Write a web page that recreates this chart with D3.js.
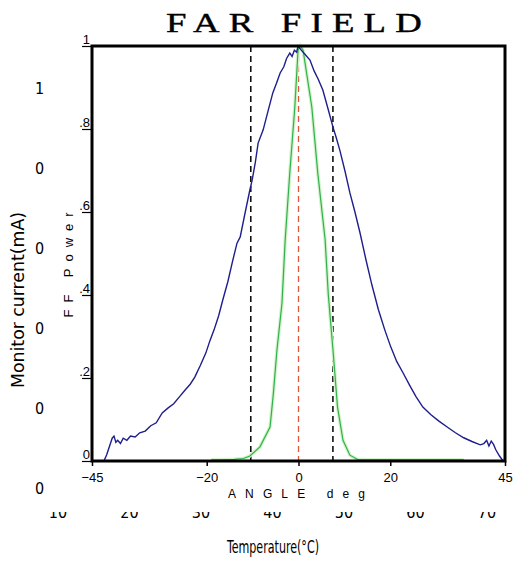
<!DOCTYPE html>
<html>
<head>
<meta charset="utf-8">
<script src="https://cdn.jsdelivr.net/npm/d3@7"></script>
<style>
	body { margin: 0; background: #fff; }
	text { font-family: "Liberation Sans", Arial, sans-serif; }
</style>
</head>
<body>
<div id="chart"></div>
<script>
// Data

// far field, wide beam (blue)
var blueAngle = [-42.4, -41.8, -41.2, -40.6, -40.2, -39.8, -39.4, -38.8, -38.2, -37.4, -36.6, -35.6, -34.6, -33.4,
	-32.2, -31.0, -29.7, -28.4, -27.2, -26.0, -24.8, -23.6, -22.6, -21.4, -20.2, -19.3, -18.4, -17.4, -16.5,
	-15.4, -14.4, -13.4, -12.7, -11.6, -10.6, -10.1, -9.4, -8.8, -7.7, -6.6, -5.6, -4.8, -4.0, -3.2, -2.6,
	-1.9, -1.4, -0.9, -0.4, -0.1, 0.6, 1.4, 2.5, 3.4, 4.3, 5.3, 6.4, 7.5, 8.2, 9.0, 10.1, 11.2, 12.3, 13.4,
	14.7, 16.0, 17.4, 18.8, 20.1, 21.4, 22.8, 24.2, 25.6, 27.1, 28.8, 30.6, 32.4, 34.2, 36.0, 37.8, 39.6,
	40.4, 41.0, 41.5, 42.0, 42.5, 43.0, 43.8, 44.6];
var bluePower = [0, 0.015, 0.035, 0.055, 0.06, 0.045, 0.05, 0.042, 0.055, 0.05, 0.06, 0.058, 0.068, 0.072,
	0.085, 0.092, 0.116, 0.128, 0.138, 0.154, 0.17, 0.185, 0.202, 0.23, 0.26, 0.29, 0.316, 0.35, 0.388,
	0.432, 0.48, 0.525, 0.54, 0.6, 0.653, 0.677, 0.72, 0.766, 0.798, 0.845, 0.887, 0.91, 0.935, 0.95, 0.97,
	0.983, 0.975, 0.99, 0.985, 1.0, 0.99, 0.98, 0.966, 0.94, 0.92, 0.894, 0.85, 0.805, 0.78, 0.749, 0.7, 0.646, 0.6, 0.55,
	0.485, 0.424, 0.365, 0.316, 0.275, 0.24, 0.212, 0.183, 0.155, 0.13, 0.112, 0.096, 0.082, 0.068, 0.056, 0.047, 0.039,
	0.042, 0.05, 0.036, 0.048, 0.04, 0.027, 0.012, 0];

// far field, narrow beam (green)
var greenAngle = [-19, -17.1, -14, -12, -10.6, -8.4, -6.2, -5.5, -4.7, -3.6, -2.9, -1.9, -0.8, -0.1, 0.4, 1.0,
	2.9, 4.2, 5.8, 6.5, 7.5, 8.5, 9.7, 11.2, 13, 36];
var greenPower = [0.003, 0.003, 0.004, 0.006, 0.012, 0.034, 0.082, 0.16, 0.267, 0.38, 0.533, 0.694, 0.853, 0.99, 1.0, 0.99,
	0.853, 0.694, 0.533, 0.4, 0.27, 0.13, 0.05, 0.014, 0.003, 0.003];

var dashAngles = [-10.4, 7.5];
var centerAngle = [0];

var ffXTicks = [-45, -20, 0, 20, 45];
var ffYTicks = [0, 0.2, 0.4, 0.6, 0.8, 1];
var ffYLabels = ["0", ".2", ".4", ".6", ".8", "1"];

// the chart underneath (mostly hidden)
var tempTicks = [10, 20, 30, 40, 50, 60, 70];
var currentTicks = [0, 0.2, 0.4, 0.6, 0.8, 1.0];

// Globals
var width = 516;
var height = 561;
var svg = d3.select("#chart")
	.append("svg")
	.attr("width", width)
	.attr("height", height);

var box = {l: 92, r: 505, t: 46, b: 461};
var narrow = "'Liberation Sans Narrow', 'Arial Narrow', 'DejaVu Sans Condensed', sans-serif";

// Functions
function DrawUnderChart() {
	var x = d3.scaleLinear().domain([10, 70]).range([58, 487]);
	var y = d3.scaleLinear().domain([0, 1]).range([488, 88]);

	svg.selectAll(".curLabel")
		.data(currentTicks)
		.enter().append("text")
			.attr("class", "curLabel")
			.attr("x", 35)
			.attr("y", function(d) { return y(d) + 6; })
			.style("font-family", narrow)
			.style("font-size", "16px")
			.text(function(d) { return d.toFixed(1); });

	svg.selectAll(".tempLabel")
		.data(tempTicks)
		.enter().append("text")
			.attr("class", "tempLabel")
			.attr("x", function(d) { return x(d); })
			.attr("y", 518)
			.attr("text-anchor", "middle")
			.style("font-family", narrow)
			.style("font-size", "16px")
			.text(function(d) { return d; });

	svg.append("text")
		.attr("transform", "translate(24,300) rotate(-90)")
		.attr("text-anchor", "middle")
		.attr("textLength", 176)
		.attr("lengthAdjust", "spacingAndGlyphs")
		.style("font-family", narrow)
		.style("font-size", "17px")
		.text("Monitor current(mA)");

	svg.append("text")
		.attr("x", 227)
		.attr("y", 553)
		.attr("textLength", 92)
		.attr("lengthAdjust", "spacingAndGlyphs")
		.style("font-family", narrow)
		.style("font-size", "17px")
		.text("Temperature(°C)");

	// the far field picture pasted on top
	svg.append("rect")
		.attr("x", 44)
		.attr("y", 0)
		.attr("width", width - 44)
		.attr("height", 512)
		.style("fill", "#fff");
}

function DrawFarField() {
	var x = d3.scaleLinear().domain([-45, 45]).range([box.l, box.r]);
	var y = d3.scaleLinear().domain([0, 1]).range([box.b, box.t]);

	svg.append("text")
		.attr("x", 166)
		.attr("y", 32)
		.attr("textLength", 265)
		.attr("lengthAdjust", "spacingAndGlyphs")
		.style("font-family", "'Liberation Serif', 'Times New Roman', serif")
		.style("font-size", "28px")
		.style("letter-spacing", "7px")
		.style("stroke", "#000")
		.style("stroke-width", 0.4)
		.text("FAR FIELD");

	var xAxis = svg.append("g")
		.attr("transform", "translate(0," + box.b + ")")
		.call(d3.axisBottom(x).tickValues(ffXTicks).tickSize(5).tickPadding(7));
	xAxis.select(".domain").remove();
	xAxis.selectAll("line").attr("stroke-width", 1.5);
	xAxis.selectAll("text").style("font-size", "13px").style("font-family", "'Liberation Sans', Arial, sans-serif");

	var yAxis = svg.append("g")
		.attr("transform", "translate(" + box.l + ",0)")
		.call(d3.axisLeft(y).tickValues(ffYTicks).tickSize(10).tickPadding(2)
			.tickFormat(function(d, i) { return ffYLabels[i]; }));
	yAxis.select(".domain").remove();
	yAxis.selectAll("line").attr("stroke-width", 1.2);
	yAxis.selectAll("text")
		.attr("dy", -3)
		.attr("x", -2)
		.style("font-size", "13px")
		.style("font-family", "'Liberation Sans', Arial, sans-serif");

	svg.append("text")
		.attr("x", 228)
		.attr("y", 498)
		.attr("textLength", 137)
		.attr("lengthAdjust", "spacing")
		.style("font-size", "12px")
		.text("ANGLE  deg");

	svg.append("text")
		.attr("transform", "translate(73,265) rotate(-90)")
		.attr("text-anchor", "middle")
		.attr("textLength", 105)
		.attr("lengthAdjust", "spacing")
		.style("font-size", "13px")
		.text("FF  Power");

	// dashed markers
	svg.selectAll(".dashLine")
		.data(dashAngles)
		.enter().append("line")
			.attr("class", "dashLine")
			.attr("x1", function(d) { return x(d); })
			.attr("x2", function(d) { return x(d); })
			.attr("y1", y(1))
			.attr("y2", y(0))
			.style("stroke", "#111")
			.style("stroke-width", 1.6)
			.style("stroke-dasharray", "6,4");

	svg.selectAll(".centerLine")
		.data(centerAngle)
		.enter().append("line")
			.attr("class", "centerLine")
			.attr("x1", function(d) { return x(d); })
			.attr("x2", function(d) { return x(d); })
			.attr("y1", y(1))
			.attr("y2", y(0))
			.style("stroke", "#e0583a")
			.style("stroke-width", 1.3)
			.style("stroke-dasharray", "6,4");

	var line = d3.line()
		.x(function(d) { return x(d[0]); })
		.y(function(d) { return y(d[1]); });

	var green = d3.zip(greenAngle, greenPower);
	var blue = d3.zip(blueAngle, bluePower);

	svg.append("path")
		.datum(green)
		.attr("d", line)
		.style("fill", "none")
		.style("stroke", "#d2f3cc")
		.style("stroke-width", 3.5);

	svg.append("path")
		.datum(green)
		.attr("d", line)
		.style("fill", "none")
		.style("stroke", "#34b04a")
		.style("stroke-width", 1.2);

	svg.append("path")
		.datum(blue)
		.attr("d", line)
		.style("fill", "none")
		.style("stroke", "#1e1e8c")
		.style("stroke-width", 1.4);

	// frame
	svg.append("rect")
		.attr("x", box.l)
		.attr("y", box.t)
		.attr("width", box.r - box.l)
		.attr("height", box.b - box.t)
		.style("fill", "none")
		.style("stroke", "#000")
		.style("stroke-width", 3);
}

// Main
DrawUnderChart();
DrawFarField();
</script>
</body>
</html>
